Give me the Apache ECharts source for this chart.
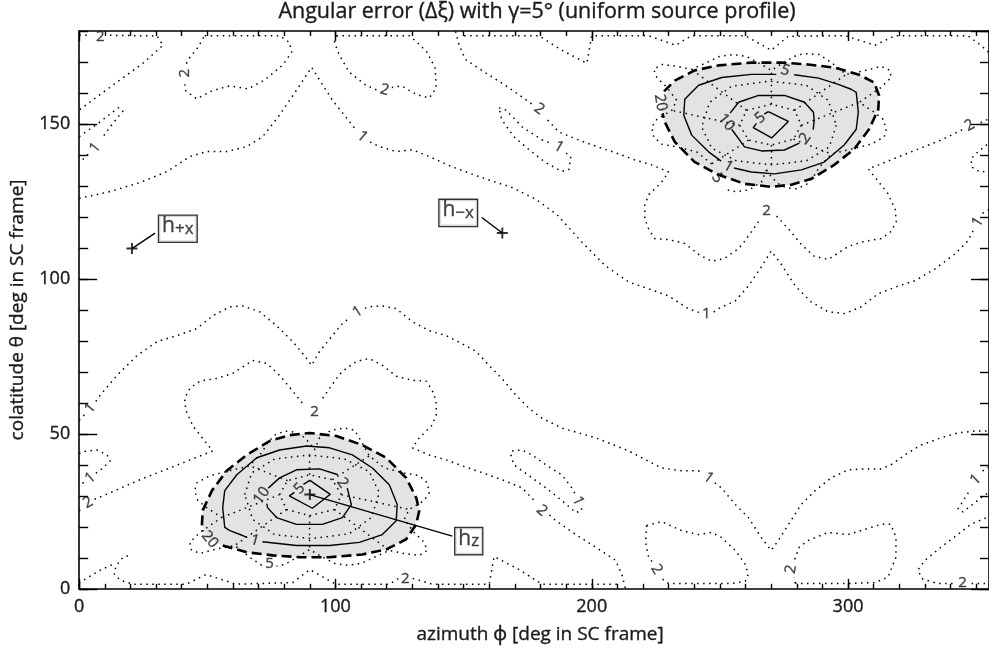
<!DOCTYPE html>
<html>
<head>
<meta charset="utf-8">
<script src="https://cdn.jsdelivr.net/npm/echarts@6/dist/echarts.min.js"></script>
<style>
html,body{margin:0;padding:0;background:#fff}
#chart{width:989px;height:649px}
</style>
</head>
<body>
<div id="chart"></div>
<script>
// ---- axis ranges and tick steps ----
const xRange = [0, 355];
const yRange = [0, 180];
const xMajor = 100, xMinor = 10;
const yMajor = 50, yMinor = 10;

// ---- contour paths, [azimuth, colatitude]; null = break for a label ----
// level 1 (dotted)
const c1Upper = [[0,126.0],[12.1,128.2],[23.7,131.1],[34.2,134.6],[43.2,139.5],[49.8,141.1],[57.6,141.1],[65.4,142.7],[71.6,145.9],[78.2,152.9],[84.8,160.9],[90.7,168.3],[93.8,164.2],[98.8,157.7],[104.3,152.0],[107.8,148.3],null,[113.5,144.2],[117.1,142.7],[123.7,141.1],[130.0,141.7],[136.6,139.5],[145.5,136.2],[156.0,133.0],[168.9,129.5],[178.2,125.7],[186.4,120.8],[196.1,111.9],[205.4,104.2],[214.4,99.0],[222.2,96.8],[230.0,94.5],[237.7,90.4],[241.8,89.2],null,[247.6,89.3],[249.4,90.4],[256.0,92.9],[261.1,97.7],[266.1,103.8],[270.0,109.0],[273.9,104.8],[279.4,97.7],[285.6,92.6],[292.2,89.4],[298.8,88.8],[305.1,91.0],[311.7,95.2],[319.5,97.7],[326.1,99.4],[333.9,103.2],[341.6,108.0],[346.7,112.2],[348.8,115.5],null,[352.5,121.2],[354.1,121.8],[360,126]];
const c1Lower = [[0,54.4],[2.2,56.3],null,[6.5,60.5],[8.2,62.5],[14.8,68.9],[22.6,75.3],[30.4,79.8],[38.1,81.7],[45.9,84.0],[52.1,88.1],[58.8,91.0],[63.8,91.3],[70.4,89.4],[77.0,84.9],[83.3,79.8],[88.7,74.4],[90.7,72.1],[93.8,76.6],[98.8,81.7],[102.7,85.6],[105.8,87.6],null,[111.5,90.5],[113.2,91.0],[118.3,91.3],[123.7,90.4],[130.0,86.2],[136.6,83.3],[143.2,81.7],[149.4,79.1],[154.9,76.6],[159.9,72.1],[164.9,67.9],[170.4,62.5],[175.5,58.3],[180.5,55.1],[188.3,51.9],[201.6,48.7],[214.4,44.5],[227.2,39.0],[235.0,38.1],[241.6,38.1],[243.3,37.3],null,[248.0,34.2],[250.6,32.6],[256.0,27.2],[261.1,23.0],[266.1,16.6],[270.0,12.4],[272.8,15.6],[276.7,20.7],[281.7,27.2],[287.2,31.7],[293.4,35.8],[300.0,38.4],[306.6,38.7],[312.8,38.7],[316.7,40.0],[322.2,43.2],[328.4,46.4],[336.2,48.7],[342.8,50.3],[349.4,50.9],[354.1,50.9],[360,54]];
const c1LoopNW = [[0,145.9],[8.2,150.7],[15.2,155.2],[17.1,154.2],[12.1,149.1],[9.0,145.5],null,[3.5,140.2],[0,137.5]];
const c1LoopSE = [[360,34.1],[351.8,29.3],[344.8,24.8],[342.9,25.8],[345.0,28.5],[347.5,31.8],null,[352.5,38.0],[357.7,40.9],[360,42.5]];
const c1LoopS = [[168.9,44.5],[172.8,44.8],[176.7,43.2],[182.1,40.0],[188.3,36.8],[192.2,32.6],[193.4,30.8],null,[196.0,26.0],[196.1,25.2],[193.8,24.6],[188.3,28.5],[182.1,32.6],[175.5,36.5],[169.6,40.0],[168.5,43.2],[168.9,44.5]];
const c1LoopN = [[163.8,155.2],[166.5,154.5],[172.8,149.1],[180.5,144.9],[184.5,143.6],null,[190.0,140.6],[191.8,139.5],[191.1,135.3],[188.3,134.7],[182.1,137.5],[175.5,141.7],[169.6,145.9],[164.9,151.4],[163.8,155.2]];
const c1EdgeW = [[0,43.6],[1.2,44.3],[7.0,44.8],[10.9,43.2],[12.1,41.3],[9.3,39.0],[6.5,37.3],null,[1.8,34.3],[0,33.5]];
const c1EdgeE = [[360,136],[355,134.8],[351.5,134.5],[348.5,136],[347.9,138.7],[350.7,141],[354.5,143.5],[360,146]];
// level 2 (dotted)
const c2Lower = [[0,25.2],[1.5,26.4],null,[6.0,28.9],[12.1,31.0],[23.7,35.2],[35.4,39.0],[45.1,42.2],[52.1,44.5],[49.0,47.7],[44.4,52.5],[41.6,57.6],[41.2,61.5],[43.2,64.7],[47.1,67.0],[53.7,67.9],[59.9,69.5],[67.7,73.7],[73.2,72.7],[78.2,68.9],[83.3,63.8],[88.0,59.0],null,[95.0,61.5],[100.4,67.9],[102.7,70.2],[108.2,73.4],[113.2,74.3],[118.3,72.1],[123.7,68.6],[130.0,67.3],[135.4,67.0],[137.7,64.1],[139.3,60.6],[139.3,56.1],[137.7,52.8],[132.7,48.7],[130.0,45.5],[136.6,43.2],[143.2,41.6],[149.4,39.7],[157.2,37.5],[165.0,35.2],[172.8,32.6],[177.5,28.5],null,[183.5,23.8],[186.0,22.0],[193.8,17.5],[201.6,13.4],[209.3,9.2],[211.7,4.7],[213.2,0]];
const c2Upper = [[360,154.8],[356.5,152.2],[350.5,150.0],null,[344.5,148.1],[336.3,144.8],[324.6,141.0],[314.9,137.8],[307.9,135.5],[311.0,132.3],[315.6,127.5],[318.4,122.4],[318.8,118.5],[316.8,115.3],[312.9,113.0],[306.3,112.1],[300.1,110.5],[292.3,106.3],[286.8,107.3],[281.8,111.1],[276.7,116.2],[271.5,120.8],null,[265.1,118.5],[259.6,112.1],[257.3,109.8],[251.8,106.6],[246.8,105.7],[241.7,107.9],[236.3,111.4],[230.0,112.7],[224.6,113.0],[222.3,115.9],[220.7,119.4],[220.7,123.9],[222.3,127.2],[227.3,131.3],[230.0,134.5],[223.4,136.8],[216.8,138.4],[210.6,140.3],[202.8,142.5],[195.0,144.8],[187.2,147.4],[182.5,151.5],null,[176.5,156.5],[174.0,158.0],[166.2,162.5],[158.4,166.6],[150.7,170.8],[148.3,175.3],[146.8,180]];
const c2CornerNW = [[0,178.6],[4.5,178.6],null,[12.0,178.6],[30.4,178.4],[32.7,175.4],[24.9,169.6],[12.1,161.9],[0,154.5]];
const c2CornerSE = [[360,25.5],[354.1,23.0],[347.9,20.8],[342.8,17.5],[336.2,13.4],[330.0,9.2],[327.2,6.0],[329.2,3.1],[335.0,1.7],[341.5,1.7],null,[348.2,1.7],[360,1.7]];
const c2TopA = [[49.0,178.5],[78.2,178.5],[82.1,176.3],[82.9,173.1],[79.4,169.0],[72.4,164.2],[65.8,161.3],[58.8,162.3],[51.8,160.7],[45.9,158.1],[41.6,160.7],[41.2,162.8],null,[41.8,169.5],[43.2,171.5],[46.3,174.7],[49.0,178.5]];
const c2TopB = [[100.4,178.5],[128.8,178.5],[131.9,176.3],[135.8,173.1],[138.9,168.0],[139.3,161.6],[136.6,158.4],[131.9,159.4],[125.7,162.3],[122.0,161.8],null,[116.0,161.0],[111.7,162.6],[105.4,166.7],[101.6,172.1],[99.6,176.3],[100.4,178.5]];
const c2BotA = [[221.4,20.4],[227.2,21.7],[235.0,18.8],[241.6,17.5],[246.7,18.2],[250.6,16.6],[256.0,12.4],[259.9,7.9],[261.1,4.7],[259.9,2.5],[254.5,1.7],[241.6,1.7],[230.0,1.7],[226.8,3.6],null,[223.5,8.8],[222.2,10.2],[221.0,15.0],[221.4,20.4]];
const c2BotB = [[279.4,1.8],[279.0,3.8],null,[279.2,9.5],[281.0,13.5],[284.4,15.6],[292.2,18.2],[300.0,17.5],[306.6,19.2],[312.8,20.8],[316.7,20.8],[318.7,16.6],[318.7,10.2],[315.6,3.8],[310.5,2.0],[300.0,1.7],[284.4,1.7],[279.4,1.8]];
const c2TopEdge = [[150.2,178.5],[179.4,178.5],[188.3,173.8],[198.1,169.6],[200.0,178.5],[222.2,178.5],[232.7,175.4],[238.9,178.5],[259.9,178.5],[270.0,173.8],[276.7,178.3],[298.8,178.5],[310.5,175.4],[318.3,178.5],[346.7,178.5],[351.8,175.4],[355,173]];
const c2BotEdge = [[209.8,1.5],[180.6,1.5],[171.7,6.2],[161.9,10.4],[160.0,1.5],[137.8,1.5],[129.5,3.5],null,[124.5,3.3],[121.1,1.5],[100.1,1.5],[90.0,6.2],[83.3,2.0],[61.2,1.5],[49.5,4.6],[41.7,1.5],[21.0,1.5],[16.0,2.8],[13.5,5.0],[14.5,7.5],[17.1,10.2],[19.8,10.8]];
const c2BotEdgeW = [[0,1.8],[2.3,3.1],[8.2,6.0],[13.2,7.9]];

// dotted structure inside / around the two source regions
const flowerS = [[91.8,44.8],[93.8,48.7],[98.4,51.2],[103.5,51.9],[107.4,51.2],[109.3,48.7],[113.2,42.9],[119.1,39.0],[126.8,37.4],[132.7,36.5],[135.8,34.2],[136.6,31.0],[134.6,28.5],[128.8,25.6],[126.8,22.4],[130.7,18.2],[134.6,15.0],[135.8,12.4],[132.7,10.8],[126.8,11.4],[121.0,12.4],[115.2,10.2],[110.1,8.2],[104.7,7.6],[99.6,8.2],[93.8,10.8],[89.9,12.7],[85.2,10.2],[80.2,7.9],[77.0,7.3],null,[71.2,7.6],[66.5,10.2],[60.7,14.0],[52.9,12.7],[47.1,11.4],[43.6,12.7],[43.2,15.0],[47.1,18.2],[55.6,23.0],[49.8,26.2],[46.3,28.5],[45.1,31.7],[45.9,34.2],[51.0,36.5],[66.5,39.7],[71.2,43.9],[73.5,47.1],[76.3,49.6],[80.2,50.9],[84.0,50.6],[87.2,49.3],[89.9,47.1],[91.8,44.8]];
const ringMidS = [[64.6,30.4],[67.3,37.4],[76.3,41.9],[89.9,43.2],[103.5,41.9],[113.2,37.8],[117.1,31.0],[114.0,23.0],[105.4,17.8],[90.7,16.2],[76.3,17.5],[67.7,22.4],[64.6,30.4]];
const ringInS = [[78.2,30.4],[81.3,34.9],[89.9,36.8],[98.8,35.2],[102.3,30.4],[99.6,25.6],[89.9,23.6],[80.9,25.6],[78.2,30.4]];
const spokesS = [[89.9,36.8],[89.9,43.2],null,[98.8,35.2],[113.2,42.9],null,[102.3,30.4],[128.8,25.6],null,[99.6,25.6],[121.0,12.4],null,[89.9,23.6],[89.9,12.7],null,[80.9,25.6],[60.7,14.0],null,[78.2,30.4],[55.6,23.0],null,[81.3,34.9],[66.5,39.7]];
const flowerN = [[268.2,135.2],[266.2,131.3],[261.6,128.8],[256.5,128.1],[252.6,128.8],null,[246.8,137.1],[240.9,141.0],[233.2,142.6],[227.3,143.5],[224.2,145.8],[223.4,149.0],[225.4,151.5],[231.2,154.4],[233.2,157.6],[229.3,161.8],[225.4,165.0],[224.2,167.6],[227.3,169.2],[233.2,168.6],[239.0,167.6],[244.8,169.8],[249.9,171.8],[255.3,172.4],[260.4,171.8],[266.2,169.2],[270.1,167.3],[274.8,169.8],[279.8,172.1],[283.0,172.7],[288.8,172.4],[293.5,169.8],[299.3,166.0],[307.1,167.3],[312.9,168.6],[316.4,167.3],[316.8,165.0],[312.9,161.8],[304.4,157.0],[310.2,153.8],[313.7,151.5],[314.9,148.3],[314.1,145.8],[309.0,143.5],[293.5,140.3],[288.8,136.1],[286.5,132.9],[283.7,130.4],[279.8,129.1],[276.0,129.4],[272.8,130.7],[270.1,132.9],[268.2,135.2]];
const ringMidN = [[295.4,149.6],[292.7,142.6],[283.7,138.1],[270.1,136.8],[256.5,138.1],[246.8,142.2],[242.9,149.0],[246.0,157.0],[254.6,162.2],[269.3,163.8],[283.7,162.5],[292.3,157.6],[295.4,149.6]];
const ringInN = [[281.8,149.6],[278.7,145.1],[270.1,143.2],[261.2,144.8],[257.7,149.6],[260.4,154.4],[270.1,156.4],[279.1,154.4],[281.8,149.6]];
const spokesN = [[270.1,143.2],[270.1,136.8],null,[261.2,144.8],[246.8,137.1],null,[257.7,149.6],[231.2,154.4],null,[260.4,154.4],[239.0,167.6],null,[270.1,156.4],[270.1,167.3],null,[279.1,154.4],[299.3,166.0],null,[281.8,149.6],[304.4,157.0],null,[278.7,145.1],[293.5,140.3]];

// source regions: gray area bounded by the dashed level-20 curve
const blobS = [[89.9,50.3],[100.4,49.3],[110.5,46.4],[119.8,42.3],[127.6,35.8],[131.5,29.4],[132.7,25.3],[131.5,20.8],[127.6,16.0],[119.8,12.7],[110.5,11.1],[97.7,10.2],[86.0,10.2],[75.5,10.8],[65.4,11.8],[56.0,14.0],[49.8,16.6],[47.9,20.8],[48.2,25.3],[51.8,31.7],[57.6,38.1],[65.4,43.2],[74.3,47.7],[82.1,49.6],[89.9,50.3]];
const blobN = [[270.1,129.7],[259.6,130.7],[249.5,133.6],[240.2,137.7],[232.4,144.2],[228.5,150.6],[227.3,154.7],[228.5,159.2],[232.4,164.0],[240.2,167.3],[249.5,168.9],[262.3,169.8],[274.0,169.8],[284.5,169.2],[294.6,168.2],[304.0,166.0],[310.2,163.4],[312.1,159.2],[311.8,154.7],[308.2,148.3],[302.4,141.9],[294.6,136.8],[285.7,132.3],[277.9,130.4],[270.1,129.7]];
const dash20S = [[56.0,14.0],[65.4,11.8],[75.5,10.8],[86.0,10.2],[97.7,10.2],[110.5,11.1],[119.8,12.7],[127.6,16.0],[131.5,20.8],[132.7,25.3],[131.5,29.4],[127.6,35.8],[119.8,42.3],[110.5,46.4],[100.4,49.3],[89.9,50.3],[82.1,49.6],[74.3,47.7],[65.4,43.2],[57.6,38.1],[51.8,31.7],[48.2,25.3],[47.9,20.8],[48.3,18.5]];
const dash20N = [[228.2,160.5],[232.4,164.0],[240.2,167.3],[249.5,168.9],[262.3,169.8],[274.0,169.8],[284.5,169.2],[294.6,168.2],[304.0,166.0],[310.2,163.4],[312.1,159.2],[311.8,154.7],[308.2,148.3],[302.4,141.9],[294.6,136.8],[285.7,132.3],[277.9,130.4],[270.1,129.7],[259.6,130.7],[249.5,133.6],[240.2,137.7],[232.4,144.2],[228.5,150.6],[227.6,153.4]];
// solid curves inside the source regions
const solidOuterS = [[71.5,15.2],[84.8,14.0],[97.7,14.0],[109.3,15.0],[118.3,17.5],[123.7,22.0],[124.1,27.2],[121.0,33.6],[114.4,39.0],[106.6,43.2],[97.7,45.5],[88.7,46.1],[78.2,44.8],[69.3,42.3],[61.5,36.8],[56.8,31.7],[56.0,26.2],[56.8,19.8],[58.8,18.8],[63.8,17.2],[65.5,16.6]];
const solidInnerS = [[73.8,32.5],[78.2,35.8],[84.8,38.4],[93.8,38.7],[101.0,36.8],null,[104.6,32.5],[106.2,27.2],[102.7,23.0],[94.9,20.8],[84.8,20.8],[77.0,23.0],[73.5,26.2],[73.2,27.5]];
const solidCoreS = [[87.5,33.7],[90.0,35.0],[98.0,30.5],[91.0,26.0],[82.0,30.0],[84.0,31.1]];
const solidOuterN = [[255.5,135.8],[262.3,134.5],[271.3,133.9],[281.8,135.2],[290.7,137.7],[298.5,143.2],[303.2,148.3],[304.0,153.8],[303.2,160.2],[301.2,161.2],[296.2,162.8],[288.5,164.8],[279.0,165.9],null,[272.0,166.0],[262.3,166.0],[250.7,165.0],[241.7,162.5],[236.3,158.0],[235.9,152.8],[239.0,146.4],[245.6,141.0],[250.5,138.0]];
const solidInnerN = [[254.0,153.5],[257.3,157.0],[265.1,159.2],[275.2,159.2],[283.0,157.0],[286.5,153.8],[286.8,151.2],[286.4,148.2],null,[281.0,143.8],[275.2,141.6],[266.2,141.3],[259.6,142.6],[254.6,148.3]];
const solidCoreN = [[268.9,154.0],[276.7,150.8],[270.2,145.5],[263.0,148.8],[264.3,150.2],null,[267.3,153.2],[268.9,154.0]];

// contour labels: [azimuth, colatitude, text, angle]
const contourLabels = [
  [8.2,178.0,'2',0],[6.2,142.3,'1',51],[110.5,145.9,'1',-41],[244.7,88.8,'1',0],[350.6,118.3,'1',58],
  [4.3,58.3,'1',50],[108.6,89.4,'1',32],[245.5,35.8,'1',-36],
  [3.5,27.8,'2',30],[91.8,57.3,'2',0],[180.5,25.2,'2',-42],
  [347.5,149.5,'2',29],[268.2,122.0,'2',0],[179.5,154.8,'2',-36],
  [41.2,166.4,'2',90],[119.1,161.0,'2',-15],[194.6,28.4,'1',-66],[187.2,142.6,'1',-30],
  [225.3,6.3,'2',-60],[277.8,6.3,'2',80],[344.7,1.9,'2',0],[349.8,35.2,'1',44],[4.3,35.8,'1',40],
  [127.2,3.1,'2',0],
  [51.0,15.9,'20',-50],[68.5,15.6,'1',-16],[74.3,8.2,'5',0],[71.2,30.1,'10',55],[86.0,32.3,'5',45],[102.7,34.2,'2',-54],
  [226.8,156.9,'20',-80],[275.5,167.3,'5',-20],[252.5,150.5,'10',-50],[265.8,151.9,'5',40],[283.3,145.5,'2',55],[253.3,136.3,'1',-30],[249.0,132.5,'5',-60]
];

// boresight markers, leader-line ends and label boxes
const markerPts = [[20.6,109.8],[165.1,114.8],[90.0,30.4]];
const leaderEnds = [[29.6,114.8],[157.1,119.8],[145.6,17.0]];
const boxCenters = [[38.5,116.2],[147.9,121.3],[152.0,15.4]];
const boxSubs = ['+x','\u2212x','z'];

const FONT = '"Open Sans", "Noto Sans", "DejaVu Sans", sans-serif';
const INK = '#000';
const TXT = '#1a1a1a';

const DOT = {color: INK, width: 1.5, type: [1.5, 4.5]};
const SOLID = {color: INK, width: 1.4, type: 'solid'};
const DASH = {color: INK, width: 2.6, type: [10, 5]};

function segments(path) {
  const out = []; let cur = [];
  path.forEach(p => {
    if (p === null) { if (cur.length > 1) out.push(cur); cur = []; }
    else cur.push(p);
  });
  if (cur.length > 1) out.push(cur);
  return out;
}

const series = [];

function fillArea(poly) {
  series.push({
    type: 'custom', coordinateSystem: 'cartesian2d', silent: true, z: 1,
    data: [[poly[0][0], poly[0][1]]],
    renderItem: (params, api) => ({
      type: 'polygon',
      shape: {points: poly.map(p => api.coord(p))},
      style: {fill: '#e3e3e3'}
    })
  });
}
fillArea(blobS);
fillArea(blobN);

function addPath(path, style) {
  segments(path).forEach(seg => series.push({
    type: 'line', data: seg, symbol: 'none', silent: true, z: 3,
    lineStyle: style, clip: true
  }));
}
[c1Upper, c1Lower, c1LoopNW, c1LoopSE, c1LoopS, c1LoopN, c1EdgeW, c1EdgeE,
 c2Lower, c2Upper, c2CornerNW, c2CornerSE, c2TopA, c2TopB, c2BotA, c2BotB, c2TopEdge, c2BotEdge, c2BotEdgeW,
 flowerS, ringMidS, ringInS, spokesS, flowerN, ringMidN, ringInN, spokesN
].forEach(p => addPath(p, DOT));
[solidOuterS, solidInnerS, solidCoreS, solidOuterN, solidInnerN, solidCoreN].forEach(p => addPath(p, SOLID));
[dash20S, dash20N].forEach(p => addPath(p, DASH));

// a hairline stroke in the text colour gives the lettering a little more weight
const inkText = {textBorderWidth: 0.35, textBorderColor: TXT, textShadowBlur: 0};

// contour level labels
series.push({
  type: 'scatter', symbolSize: 0, silent: true, z: 5,
  data: contourLabels.map(l => ({
    value: [l[0], l[1]],
    label: Object.assign({show: true, position: 'inside', formatter: l[2], rotate: l[3],
            fontSize: 15, fontFamily: FONT, color: TXT}, inkText)
  }))
});

// leader lines
markerPts.forEach((m, i) => {
  series.push({type: 'line', data: [m, leaderEnds[i]], symbol: 'none', silent: true, z: 4,
               lineStyle: {color: INK, width: 1.4}});
});
// "+" markers
series.push({
  type: 'scatter', silent: true, z: 6,
  symbol: 'path://M0,4.1H10V5.9H0Z M4.1,0H5.9V10H4.1Z', symbolSize: 11,
  itemStyle: {color: INK}, data: markerPts
});
// boxed labels
series.push({
  type: 'scatter', symbolSize: 0, silent: true, z: 7,
  data: boxCenters.map((c, i) => ({
    value: c,
    label: {
      show: true, position: 'inside',
      formatter: '{h|h}{s|' + boxSubs[i] + '}',
      backgroundColor: '#fff', borderColor: INK, borderWidth: 1.3,
      padding: [0, 3, 0, 3], textBorderWidth: 0,
      rich: {
        h: Object.assign({fontSize: 21, fontFamily: FONT, color: TXT, padding: [0, 0, 5, 0]}, inkText),
        s: Object.assign({fontSize: 17, fontFamily: FONT, color: TXT}, inkText)
      }
    }
  }))
});

const tickStyle = {color: INK, width: 1.4};
function xAx(pos, step, len, main) {
  return {
    type: 'value', min: xRange[0], max: xRange[1], interval: step, position: pos,
    axisLine: {show: main, onZero: false, lineStyle: {color: INK, width: 1.6}},
    axisTick: {show: true, inside: true, length: len, lineStyle: tickStyle},
    axisLabel: Object.assign({show: main && pos === 'bottom', margin: 9, fontSize: 18, fontFamily: FONT, color: TXT,
                showMaxLabel: false}, inkText),
    splitLine: {show: false},
    name: (main && pos === 'bottom') ? 'azimuth \u03d5 [deg in SC frame]' : '',
    nameLocation: 'middle', nameGap: 36,
    nameTextStyle: Object.assign({fontSize: 19, fontFamily: FONT, color: TXT, padding: [0, 0, 0, 12]}, inkText)
  };
}
function yAx(pos, step, len, main) {
  return {
    type: 'value', min: yRange[0], max: yRange[1], interval: step, position: pos,
    axisLine: {show: main, onZero: false, lineStyle: {color: INK, width: 1.6}},
    axisTick: {show: true, inside: true, length: len, lineStyle: tickStyle},
    axisLabel: Object.assign({show: main && pos === 'left', margin: 9, fontSize: 18, fontFamily: FONT, color: TXT,
                showMaxLabel: false}, inkText),
    splitLine: {show: false},
    name: (main && pos === 'left') ? 'colatitude \u03b8 [deg in SC frame]' : '',
    nameLocation: 'middle', nameGap: 52,
    nameTextStyle: Object.assign({fontSize: 19, fontFamily: FONT, color: TXT}, inkText)
  };
}

const chart = echarts.init(document.getElementById('chart'), null, {renderer: 'canvas'});
chart.setOption({
  animation: false,
  backgroundColor: '#fff',
  grid: {left: 79, top: 31, width: 912, height: 561, containLabel: false},
  graphic: [{
    type: 'text', x: 537, y: 1,
    style: {text: 'Angular error (\u0394\u03be) with \u03b3=5\u00b0 (uniform source profile)',
            font: '21.5px ' + FONT, fill: TXT, textAlign: 'center', textVerticalAlign: 'top',
            stroke: TXT, lineWidth: 0.35}
  }],
  xAxis: [xAx('bottom', xMajor, 10, true), xAx('bottom', xMinor, 5, false),
          xAx('top', xMajor, 10, true), xAx('top', xMinor, 5, false)],
  yAxis: [yAx('left', yMajor, 18, true), yAx('left', yMinor, 9, false),
          yAx('right', yMajor, 18, true), yAx('right', yMinor, 9, false)],
  series: series
});
</script>
</body>
</html>
